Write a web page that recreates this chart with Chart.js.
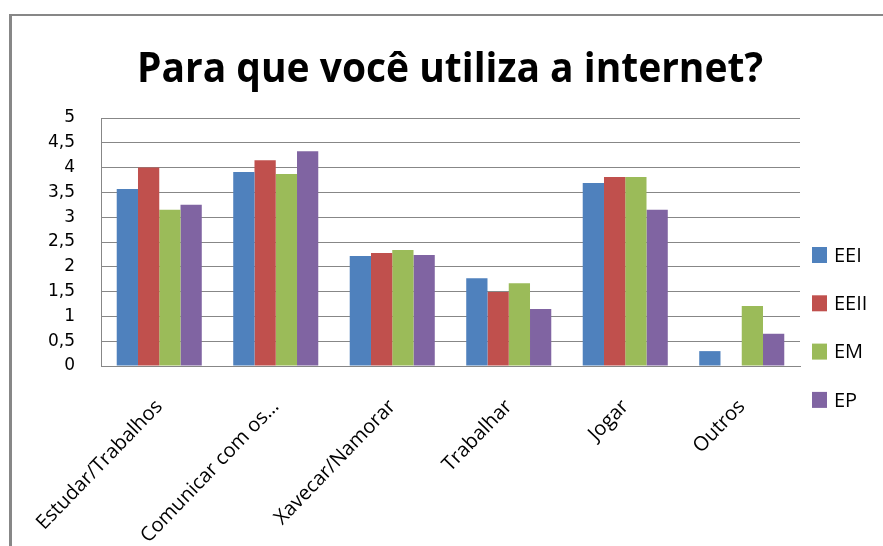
<!DOCTYPE html>
<html>
<head>
<meta charset="utf-8">
<script src="https://cdn.jsdelivr.net/npm/chart.js@4.4.1/dist/chart.umd.min.js"></script>
<style>
  body { margin: 0; background: #fff; }
  #wrap { width: 883px; height: 546px; }
</style>
</head>
<body>
<div id="wrap"><canvas id="uso-internet" width="883" height="546"></canvas></div>
<script>
// dados
var categorias = ['Estudar/Trabalhos', 'Comunicar com os…', 'Xavecar/Namorar', 'Trabalhar', 'Jogar', 'Outros'];
var series = ['EEI', 'EEII', 'EM', 'EP'];
var valoresEEI = [3.57, 3.91, 2.22, 1.77, 3.69, 0.30];
var valoresEEII = [4.0, 4.15, 2.28, 1.49, 3.81, 0];
var valoresEM = [3.15, 3.87, 2.34, 1.67, 3.81, 1.21];
var valoresEP = [3.25, 4.33, 2.24, 1.15, 3.15, 0.65];
var cores = ['#4F81BD', '#C0504D', '#9BBB59', '#8064A2'];
var titulo = 'Para que você utiliza a internet?';

var cinza = '#878787';

// moldura, titulo e legenda desenhados a mao (estilo Excel)
var extras = {
  id: 'extras',
  beforeDraw: function(chart) {
    var c = chart.ctx;
    c.save();
    c.strokeStyle = cinza;
    c.lineWidth = 2;
    c.beginPath();
    c.moveTo(10, 15); c.lineTo(883, 15);
    c.stroke();
    c.lineWidth = 3;
    c.beginPath();
    c.moveTo(10.5, 14); c.lineTo(10.5, 546);
    c.stroke();
    c.restore();
  },
  afterDraw: function(chart) {
    var c = chart.ctx;
    // titulo
    c.save();
    c.font = 'bold 42px "Open Sans"';
    c.fillStyle = '#000';
    c.textAlign = 'center';
    c.textBaseline = 'alphabetic';
    var w = c.measureText(titulo).width;
    c.translate(450, 82);
    c.scale(626 / w, 1);
    c.fillText(titulo, 0, 0);
    c.restore();
    // legenda
    c.save();
    c.font = '20px "Open Sans"';
    c.textBaseline = 'middle';
    c.textAlign = 'left';
    chart.data.datasets.forEach(function(ds, i) {
      var y = 255 + i * 48.3;
      c.fillStyle = ds.backgroundColor;
      c.fillRect(812, y - 8, 15, 16);
      c.fillStyle = '#000';
      c.fillText(ds.label, 834, y + 1);
    });
    c.restore();
  }
};

var todos = [valoresEEI, valoresEEII, valoresEM, valoresEP];
var datasets = series.map(function(nome, i) {
  return {
    label: nome,
    data: todos[i],
    backgroundColor: cores[i],
    borderWidth: 0,
    categoryPercentage: 0.73,
    barPercentage: 1.0
  };
});

var ctx = document.getElementById('uso-internet');
var myChart = new Chart(ctx, {
  type: 'bar',
  data: {
    labels: categorias,
    datasets: datasets
  },
  options: {
    responsive: false,
    animation: false,
    devicePixelRatio: 1,
    layout: { padding: { top: 118, right: 83, left: 0, bottom: 0 } },
    plugins: {
      legend: { display: false },
      title: { display: false },
      tooltip: { enabled: false }
    },
    scales: {
      x: {
        grid: { display: false, drawTicks: false },
        border: { display: true, color: cinza, width: 1 },
        ticks: {
          color: '#000',
          font: { family: 'Open Sans', size: 20 },
          minRotation: 46,
          maxRotation: 46,
          padding: 29,
          autoSkip: false
        },
        afterFit: function(scale) {
          scale.height = 180;
          // nao deixar os rotulos inclinados empurrarem a area do grafico
          scale.paddingLeft = 0;
          scale.paddingRight = 0;
        }
      },
      y: {
        min: 0,
        max: 5,
        grid: { color: cinza, drawTicks: false, lineWidth: 1 },
        border: { display: true, color: cinza, width: 1 },
        ticks: {
          stepSize: 0.5,
          color: '#000',
          padding: 26,
          font: { family: 'DejaVu Sans', size: 17 },
          callback: function(v) { return String(v).replace('.', ','); }
        },
        afterFit: function(scale) { scale.width = 101; }
      }
    }
  },
  plugins: [extras]
});
</script>
</body>
</html>
